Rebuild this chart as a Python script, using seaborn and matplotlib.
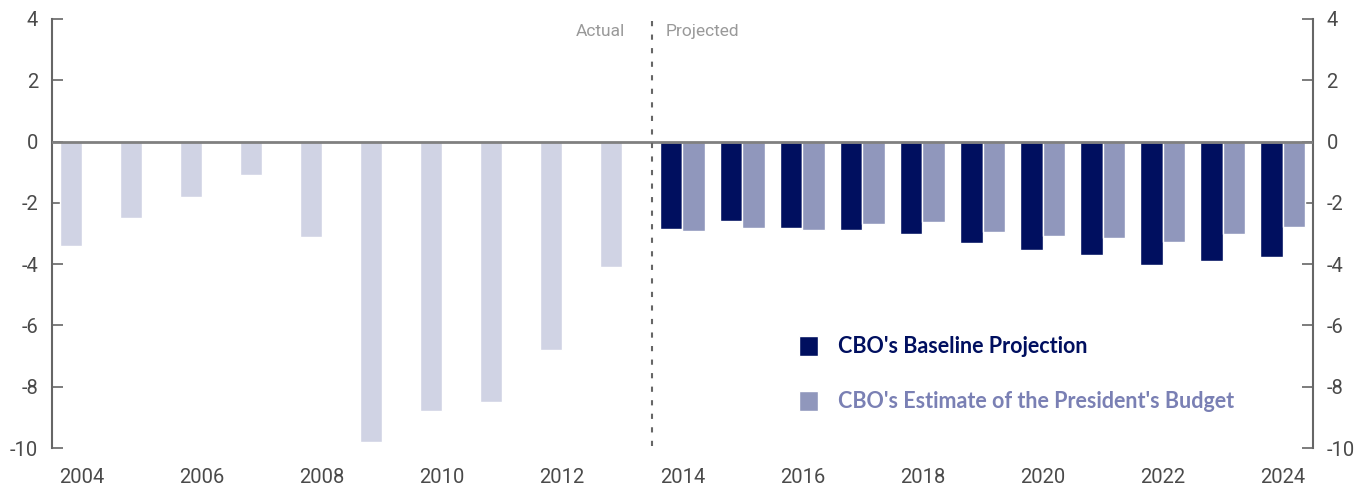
import pandas as pd
import matplotlib.pyplot as plt
import seaborn as sns
from matplotlib.patches import Patch

# Deficit as % of GDP
actual_years = [2004, 2005, 2006, 2007, 2008, 2009, 2010, 2011, 2012, 2013]
actual_vals = [-3.4, -2.5, -1.8, -1.1, -3.1, -9.8, -8.8, -8.5, -6.8, -4.1]

proj_years = [2014, 2015, 2016, 2017, 2018, 2019, 2020, 2021, 2022, 2023, 2024]
baseline_vals = [-2.86, -2.60, -2.83, -2.90, -3.00, -3.32, -3.55, -3.71, -4.04, -3.91, -3.75]
president_vals = [-2.93, -2.83, -2.90, -2.70, -2.64, -2.96, -3.09, -3.13, -3.29, -3.03, -2.80]

series_names = ["CBO's Baseline Projection", "CBO's Estimate of the President's Budget"]
tick_years = [2004, 2006, 2008, 2010, 2012, 2014, 2016, 2018, 2020, 2022, 2024]

dark = "#000F5F"
light = "#9097BC"
pale = "#D0D3E4"
gray = "#666666"

# actual bars sit in the left slot, same as the baseline bars
df = pd.concat([
    pd.DataFrame({"year": actual_years, "value": actual_vals, "slot": series_names[0]}),
    pd.DataFrame({"year": proj_years, "value": baseline_vals, "slot": series_names[0]}),
    pd.DataFrame({"year": proj_years, "value": president_vals, "slot": series_names[1]}),
])
all_years = actual_years + proj_years

sns.set_style("white")
plt.rcParams["font.family"] = ["Roboto", "DejaVu Sans"]
plt.rcParams["axes.unicode_minus"] = False

fig = plt.figure(figsize=(13.66, 4.86), dpi=100)
ax = fig.add_axes([0.038, 0.078, 0.923, 0.883])

sns.barplot(data=df, x="year", y="value", hue="slot", order=all_years,
            hue_order=series_names, palette=[dark, light], width=0.74,
            saturation=1, legend=False, ax=ax)

for p in ax.patches:
    if p.get_x() + p.get_width() / 2 < 9.5:
        p.set_facecolor(pale)

ax.set_xlim(-0.5, 20.5)
ax.set_ylim(-10, 4)
ax.set_yticks(range(-10, 5, 2))
ax.set_xticks([all_years.index(y) for y in tick_years])
ax.set_xticklabels([str(y) for y in tick_years])
ax.set_xlabel("")
ax.set_ylabel("")

for side in ["top", "bottom"]:
    ax.spines[side].set_visible(False)
for side in ["left", "right"]:
    ax.spines[side].set_visible(True)
    ax.spines[side].set_color(gray)
    ax.spines[side].set_linewidth(1.5)

ax.tick_params(axis="y", direction="in", length=8, width=1.2, color=gray,
               labelsize=14.5, labelcolor="#4a4a4a", left=True, right=True,
               labelleft=True, labelright=True, pad=10)
ax.tick_params(axis="x", length=0, labelsize=14.5, labelcolor="#4a4a4a", pad=14)

ax.axhline(0, color="#808080", lw=2, zorder=3)
ax.axvline(9.5, ymin=0.005, ymax=1.0, color=gray, lw=1.5, ls=(0, (2.5, 4)), zorder=3)

ax.text(9.05, 3.6, "Actual", ha="right", va="center", fontsize=12.5, color="#999999")
ax.text(9.72, 3.6, "Projected", ha="left", va="center", fontsize=12.5, color="#999999")

handles = [Patch(facecolor=dark), Patch(facecolor=light)]
leg = ax.legend(handles, series_names, loc="upper left", bbox_to_anchor=(0.577, 0.307),
                frameon=False, handlelength=0.9, handleheight=1.1, handletextpad=0.9,
                labelspacing=1.55, prop={"family": "Lato", "weight": "bold", "size": 15.5})
leg.get_texts()[0].set_color(dark)
leg.get_texts()[1].set_color("#7A80B4")

fig.savefig("out.png", dpi=100)
